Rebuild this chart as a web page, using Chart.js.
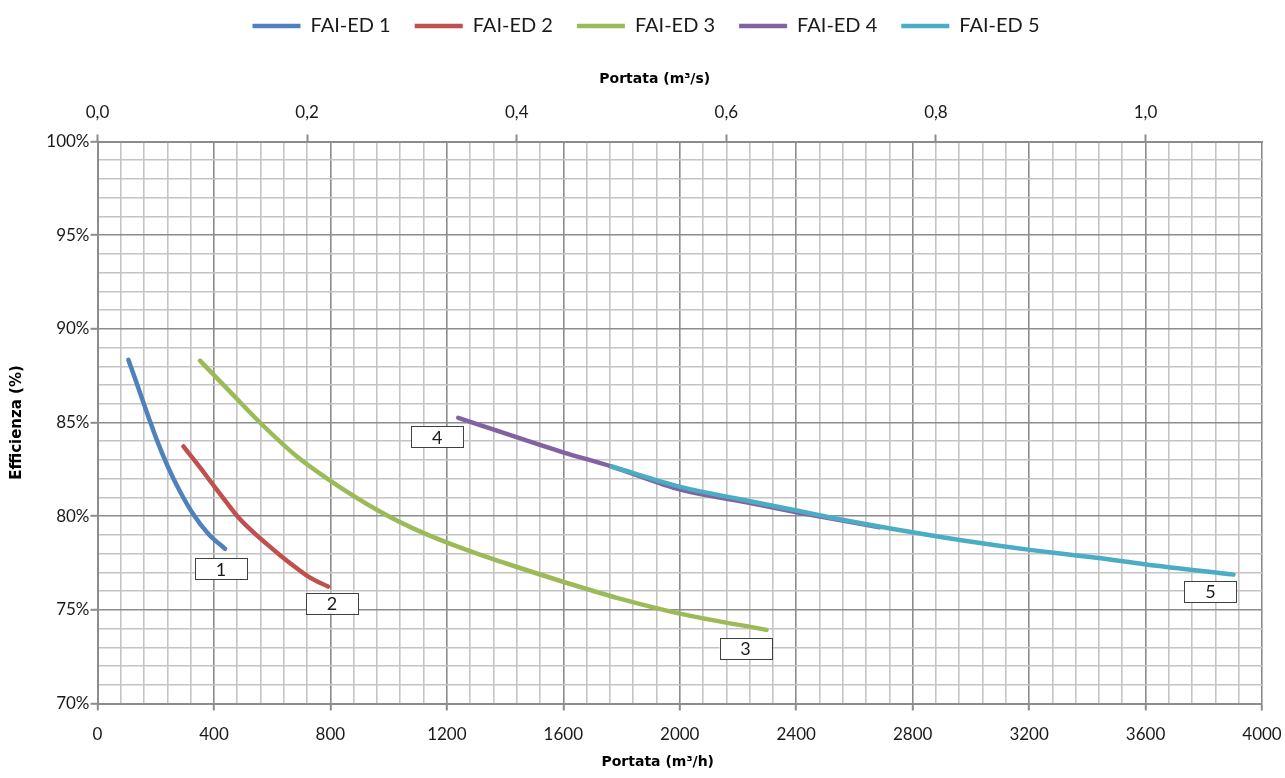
<!DOCTYPE html>
<html>
<head>
<meta charset="utf-8">
<script src="https://cdn.jsdelivr.net/npm/chart.js@4.4.1/dist/chart.umd.min.js"></script>
<style>
    html, body { margin: 0; padding: 0; background: #fff; }
    #wrap { width: 1285px; height: 778px; }
</style>
</head>
<body>
<div id="wrap"><canvas id="chart"></canvas></div>
<script>
// Series names and colours
const seriesNames = ['FAI-ED 1', 'FAI-ED 2', 'FAI-ED 3', 'FAI-ED 4', 'FAI-ED 5'];
const seriesColors = ['#4F81BD', '#C0504D', '#9BBB59', '#8064A2', '#4BACC6'];

// Portata (m3/h) and Efficienza (%)
const flow1 = [106, 129, 152, 175, 203, 243, 283, 329, 381, 438];
const eff1 = [88.35, 87.35, 86.32, 85.3, 84.1, 82.6, 81.33, 80.1, 79.05, 78.26];

const flow2 = [295, 352, 398, 444, 489, 535, 581, 627, 672, 730, 792];
const eff2 = [83.72, 82.6, 81.65, 80.72, 79.85, 79.15, 78.52, 77.92, 77.37, 76.72, 76.24];

const flow3 = [352, 455, 558, 684, 804, 970, 1084, 1199, 1313, 1399, 1599, 1794, 2000, 2298];
const eff3 = [88.3, 86.65, 85.0, 83.2, 81.85, 80.25, 79.35, 78.6, 77.95, 77.5, 76.5, 75.6, 74.8, 73.93];

const flow4 = [1239, 1599, 1766, 2006, 2229, 2401, 2687];
const eff4 = [85.25, 83.41, 82.65, 81.4, 80.74, 80.21, 79.41];

const flow5 = [1766, 2006, 2229, 2401, 2572, 2799, 2973, 3202, 3431, 3602, 3902];
const eff5 = [82.65, 81.55, 80.84, 80.3, 79.77, 79.14, 78.7, 78.2, 77.78, 77.42, 76.88];

// Curve labels (boxes), and which end of the curve they sit at
const curveLabels = ['1', '2', '3', '4', '5'];
const labelAtStart = [false, false, false, true, false];

const flows = [flow1, flow2, flow3, flow4, flow5];
const effs = [eff1, eff2, eff3, eff4, eff5];

const FONT = 'Lato, "Noto Sans", sans-serif';
const TITLE_FONT = '"DejaVu Sans", sans-serif';
const MAJOR_GRID = '#8c8c8c';
const MINOR_GRID = '#c4c4c4';

// pixel offsets of the label box centre from its anchor point
const labelOffsets = [[-4, 20], [4, 16.5], [-21, 18.5], [-21, 19], [-23, 17]];

const boxLabels = {
    id: 'boxLabels',
    afterDatasetsDraw(chart) {
        const { ctx, scales } = chart;
        ctx.save();
        ctx.font = '18px ' + FONT;
        ctx.textAlign = 'center';
        ctx.textBaseline = 'middle';
        curveLabels.forEach((txt, i) => {
            const xs = flows[i], ys = effs[i];
            const k = labelAtStart[i] ? 0 : xs.length - 1;
            const px = scales.x.getPixelForValue(xs[k]) + labelOffsets[i][0];
            const py = scales.y.getPixelForValue(ys[k]) + labelOffsets[i][1];
            const w = 52, h = 21;
            ctx.fillStyle = '#ffffff';
            ctx.fillRect(px - w / 2, py - h / 2, w, h);
            ctx.strokeStyle = '#404040';
            ctx.lineWidth = 1;
            ctx.strokeRect(Math.round(px - w / 2) + 0.5, Math.round(py - h / 2) + 0.5, w, h);
            ctx.fillStyle = '#1a1a1a';
            ctx.fillText(txt, px, py + 1);
        });
        ctx.restore();
    }
};

// x axis titles sit a bit left of the plot centre in the original
const axisTitles = {
    id: 'axisTitles',
    afterLayout(chart) {
        // nudge the legend row to the right
        chart.legend.left += 12;
        chart.legend.right += 12;
    },
    afterDraw(chart) {
        const { ctx, chartArea } = chart;
        const cx = (chartArea.left + chartArea.right) / 2;
        ctx.save();
        ctx.font = 'bold 14px ' + TITLE_FONT;
        ctx.fillStyle = '#000';
        ctx.textAlign = 'center';
        ctx.textBaseline = 'middle';
        ctx.fillText('Portata (m³/s)', cx - 25, chartArea.top - 62);
        ctx.fillText('Portata (m³/h)', cx - 22, chartArea.bottom + 58.5);
        ctx.restore();
    }
};

const datasets = seriesNames.map((name, i) => ({
    label: name,
    data: flows[i].map((f, j) => ({ x: f, y: effs[i][j] })),
    borderColor: seriesColors[i],
    backgroundColor: seriesColors[i],
    borderWidth: 4.5,
    borderCapStyle: 'round',
    borderJoinStyle: 'round',
    pointRadius: 0,
    cubicInterpolationMode: 'monotone',
    order: seriesNames.length - i,
}));

const ctx = document.getElementById('chart').getContext('2d');
new Chart(ctx, {
    type: 'line',
    data: { datasets },
    plugins: [boxLabels, axisTitles],
    options: {
        responsive: true,
        maintainAspectRatio: false,
        animation: false,
        layout: { padding: { left: 6, right: 23, top: -8, bottom: 4 } },
        plugins: {
            tooltip: { enabled: false },
            legend: {
                position: 'top',
                labels: {
                    usePointStyle: true,
                    pointStyle: 'line',
                    pointStyleWidth: 48,
                    padding: 24,
                    color: '#1a1a1a',
                    font: { family: FONT, size: 20 },
                    sort: (a, b) => a.datasetIndex - b.datasetIndex,
                },
            },
        },
        scales: {
            x: {
                type: 'linear',
                position: 'bottom',
                min: 0,
                max: 4000,
                afterFit: (s) => { s.height = 70.5; s.paddingRight = 0; s.paddingLeft = 0; },
                border: { color: MAJOR_GRID, width: 2 },
                grid: {
                    color: (c) => (c.tick && c.tick.value % 400 === 0 ? MAJOR_GRID : MINOR_GRID),
                    lineWidth: 1.6,
                    tickLength: 7,
                    tickColor: (c) => (c.tick && c.tick.value % 400 === 0 ? MAJOR_GRID : 'rgba(0,0,0,0)'),
                    tickWidth: 2,
                },
                ticks: {
                    stepSize: 80,
                    autoSkip: false,
                    maxRotation: 0,
                    padding: 14,
                    color: '#1a1a1a',
                    font: { family: FONT, size: 17 },
                    callback: (v) => (v % 400 === 0 ? String(v) : ''),
                },
            },
            x2: {
                type: 'linear',
                position: 'top',
                display: true,
                min: 0,
                max: 4000 / 3600,
                afterFit: (s) => { s.height = 95.5; s.paddingRight = 0; s.paddingLeft = 0; },
                border: { color: MAJOR_GRID, width: 2 },
                grid: {
                    drawOnChartArea: false,
                    tickLength: 7,
                    tickColor: MAJOR_GRID,
                    tickWidth: 2,
                },
                ticks: {
                    stepSize: 0.2,
                    includeBounds: false,
                    maxRotation: 0,
                    padding: 12,
                    color: '#1a1a1a',
                    font: { family: FONT, size: 17 },
                    callback: (v) => v.toFixed(1).replace('.', ','),
                },
            },
            y: {
                type: 'linear',
                min: 70,
                max: 100,
                afterFit: (s) => { s.width = 91.5; },
                border: { color: MAJOR_GRID, width: 2 },
                grid: {
                    color: (c) => (c.tick && c.tick.value % 5 === 0 ? MAJOR_GRID : MINOR_GRID),
                    lineWidth: 1.6,
                    tickLength: 7,
                    tickColor: (c) => (c.tick && c.tick.value % 5 === 0 ? MAJOR_GRID : 'rgba(0,0,0,0)'),
                    tickWidth: 2,
                },
                ticks: {
                    stepSize: 1,
                    autoSkip: false,
                    padding: 1,
                    color: '#1a1a1a',
                    font: { family: FONT, size: 17 },
                    callback: (v) => (v % 5 === 0 ? v + '%' : ''),
                },
                title: {
                    display: true,
                    text: 'Efficienza (%)',
                    color: '#000',
                    font: { family: TITLE_FONT, size: 15, weight: 'bold' },
                    padding: { top: 2, bottom: 0 },
                },
            },
        },
    },
});
</script>
</body>
</html>
